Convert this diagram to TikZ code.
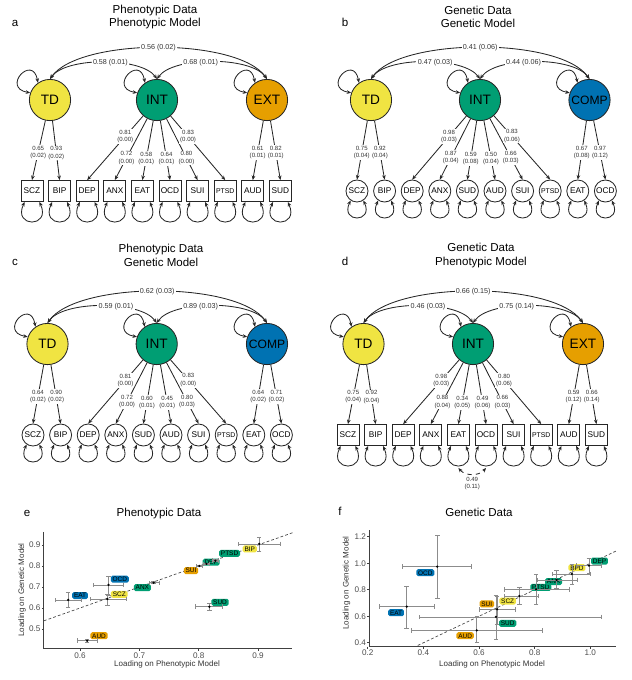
\documentclass[tikz,border=0pt]{standalone}
\usepackage{fontspec}
\setmainfont{Liberation Sans}
\usetikzlibrary{arrows.meta,positioning}
\usepackage{xcolor}

\definecolor{tdyellow}{HTML}{F0E442}
\definecolor{intgreen}{HTML}{009E73}
\definecolor{extorange}{HTML}{E69F00}
\definecolor{compblue}{HTML}{0072B2}

\tikzset{
	>={Stealth[length=3.2pt,width=2.6pt]},
	latent/.style={circle, draw=black!85, line width=0.6pt, minimum size=1.03cm, inner sep=0pt, font=\fontsize{9.7}{10}\selectfont},
	obsbox/.style={rectangle, draw=black!85, line width=0.6pt, minimum width=0.55cm, minimum height=0.525cm, inner sep=0pt},
	obscirc/.style={circle, draw=black!85, line width=0.6pt, minimum size=0.55cm, inner sep=0pt},
	loadline/.style={->, draw=black!85, line width=0.6pt},
	covline/.style={<->, draw=black!85, line width=0.6pt},
	resid/.style={<->, draw=black!85, line width=0.6pt},
	loadlab/.style={fill=white, inner sep=0.6pt, align=center, text=black!80, font=\fontsize{4.3}{5.3}\selectfont},
	covlab/.style={fill=white, inner sep=1pt, text=black!80, font=\fontsize{5.1}{6}\selectfont},
	paneltitle/.style={align=center, font=\fontsize{8.2}{9.5}\selectfont},
	panelletter/.style={anchor=base, font=\fontsize{8.2}{9.5}\selectfont},
	axisline/.style={draw=black!75, line width=0.8pt},
	ticklab/.style={text=black!70, inner sep=0.7pt, font=\fontsize{5.8}{6.5}\selectfont},
	axistitle/.style={text=black!80, font=\fontsize{5.7}{6.5}\selectfont},
	ebar/.style={draw=black!45, line width=0.5pt, {Bar[width=3.2pt]}-{Bar[width=3.2pt]}},
	plab/.style={rounded corners=1.2pt, inner xsep=1.3pt, inner ysep=0.8pt, text height=3.4pt, text depth=0pt, font=\fontsize{4.6}{5}\selectfont}
}

\begin{document}
\begin{tikzpicture}[x=0.025cm, y=0.025cm]
	\useasboundingbox (0,0) rectangle (632,-680);
	
	% panel letters and titles
	\node [panelletter] (aLetter) at (15,-26.5) {a};
	\node [paneltitle] (aTitle) at (155,-17) {Phenotypic Data\\Phenotypic Model};
	\node [panelletter] (bLetter) at (345,-26.5) {b};
	\node [paneltitle] (bTitle) at (478,-17) {Genetic Data\\Genetic Model};
	\node [panelletter] (cLetter) at (15,-265) {c};
	\node [paneltitle] (cTitle) at (161,-255.5) {Phenotypic Data\\Genetic Model};
	\node [panelletter] (dLetter) at (345,-265.5) {d};
	\node [paneltitle] (dTitle) at (481,-255.5) {Genetic Data\\Phenotypic Model};
	
	% a: phenotypic data, phenotypic model
	\begin{scope}
		\node [latent, fill=tdyellow] (aTD) at (50,-100) {TD};
		\node [latent, fill=intgreen] (aINT) at (157,-100) {INT};
		\node [latent, fill=extorange] (aEXT) at (267,-100) {EXT};
		\draw [covline] (aTD.north) to[out=55,in=125,looseness=0.6] node [covlab] (aCovTE) {0.56 (0.02)} (aEXT.north);
		\draw [covline] (aTD.north) to[out=55,in=125,looseness=0.65] node [covlab, pos=0.55] (aCovTI) {0.58 (0.01)} (aINT.north);
		\draw [covline] (aINT.north) to[out=55,in=125,looseness=0.65] node [covlab, pos=0.42] (aCovIE) {0.68 (0.01)} (aEXT.north);
		\foreach \f in {TD,INT,EXT}
			\draw [resid] (a\f.160) to[out=170,in=100,looseness=6] (a\f.125);
		\foreach \i/\name/\fac/\load/\se/\p/\fs in {
			0/SCZ/TD/0.65/0.02/0.54/5.9,
			1/BIP/TD/0.93/0.02/0.54/5.9,
			2/DEP/INT/0.81/0.00/0.32/5.9,
			3/ANX/INT/0.72/0.00/0.64/5.9,
			4/EAT/INT/0.58/0.01/0.64/5.9,
			5/OCD/INT/0.64/0.01/0.64/5.9,
			6/SUI/INT/0.80/0.00/0.64/5.9,
			7/PTSD/INT/0.83/0.00/0.32/4.9,
			8/AUD/EXT/0.61/0.01/0.54/5.9,
			9/SUD/EXT/0.82/0.01/0.54/5.9}
		{
			\node [obsbox, font=\fontsize{\fs}{\fs}\selectfont] (a\name) at (32+27.6*\i,-191) {\name};
			\draw [loadline] (a\fac) -- node [loadlab, pos=\p] {\load\\(\se)} (a\name.north);
			\draw [resid] (a\name.-124) to[out=-115,in=-65,looseness=5] (a\name.-56);
		}
	\end{scope}
	
	% b: genetic data, genetic model
	\begin{scope}[shift={(325,0)}]
		\node [latent, fill=tdyellow] (bTD) at (46,-100) {TD};
		\node [latent, fill=intgreen] (bINT) at (155,-100) {INT};
		\node [latent, fill=compblue, font=\fontsize{8.6}{9}\selectfont] (bCOMP) at (264.5,-100) {COMP};
		\draw [covline] (bTD.north) to[out=55,in=125,looseness=0.6] node [covlab] (bCovTC) {0.41 (0.06)} (bCOMP.north);
		\draw [covline] (bTD.north) to[out=55,in=125,looseness=0.65] node [covlab, pos=0.57] (bCovTI) {0.47 (0.03)} (bINT.north);
		\draw [covline] (bINT.north) to[out=55,in=125,looseness=0.65] node [covlab, pos=0.42] (bCovIC) {0.44 (0.06)} (bCOMP.north);
		\foreach \f in {TD,INT,COMP}
			\draw [resid] (b\f.160) to[out=170,in=100,looseness=6] (b\f.125);
		\foreach \i/\name/\fac/\load/\se/\p/\fs in {
			0/SCZ/TD/0.75/0.04/0.54/5.9,
			1/BIP/TD/0.92/0.04/0.54/5.9,
			2/DEP/INT/0.98/0.03/0.32/5.9,
			3/ANX/INT/0.87/0.04/0.64/5.9,
			4/SUD/INT/0.59/0.08/0.64/5.9,
			5/AUD/INT/0.50/0.04/0.64/5.9,
			6/SUI/INT/0.66/0.03/0.64/5.9,
			7/PTSD/INT/0.83/0.06/0.32/4.9,
			8/EAT/COMP/0.67/0.08/0.54/5.9,
			9/OCD/COMP/0.97/0.12/0.54/5.9}
		{
			\node [obscirc, font=\fontsize{\fs}{\fs}\selectfont] (b\name) at (32+27.6*\i,-191) {\name};
			\draw [loadline] (b\fac) -- node [loadlab, pos=\p] {\load\\(\se)} (b\name.north);
			\draw [resid] (b\name.-124) to[out=-115,in=-65,looseness=5] (b\name.-56);
		}
	\end{scope}
	
	% c: phenotypic data, genetic model
	\begin{scope}[shift={(0,-244)}]
		\node [latent, fill=tdyellow] (cTD) at (47.5,-100) {TD};
		\node [latent, fill=intgreen] (cINT) at (156.7,-100) {INT};
		\node [latent, fill=compblue, font=\fontsize{8.6}{9}\selectfont] (cCOMP) at (267,-100) {COMP};
		\draw [covline] (cTD.north) to[out=55,in=125,looseness=0.6] node [covlab] (cCovTC) {0.62 (0.03)} (cCOMP.north);
		\draw [covline] (cTD.north) to[out=55,in=125,looseness=0.65] node [covlab, pos=0.6] (cCovTI) {0.59 (0.01)} (cINT.north);
		\draw [covline] (cINT.north) to[out=55,in=125,looseness=0.65] node [covlab, pos=0.42] (cCovIC) {0.89 (0.03)} (cCOMP.north);
		\foreach \f in {TD,INT,COMP}
			\draw [resid] (c\f.160) to[out=170,in=100,looseness=6] (c\f.125);
		\foreach \i/\name/\fac/\load/\se/\p/\fs in {
			0/SCZ/TD/0.64/0.02/0.54/5.9,
			1/BIP/TD/0.90/0.02/0.54/5.9,
			2/DEP/INT/0.81/0.00/0.32/5.9,
			3/ANX/INT/0.72/0.00/0.64/5.9,
			4/SUD/INT/0.60/0.01/0.64/5.9,
			5/AUD/INT/0.45/0.01/0.64/5.9,
			6/SUI/INT/0.80/0.03/0.64/5.9,
			7/PTSD/INT/0.83/0.00/0.32/4.9,
			8/EAT/COMP/0.64/0.02/0.54/5.9,
			9/OCD/COMP/0.71/0.02/0.54/5.9}
		{
			\node [obscirc, font=\fontsize{\fs}{\fs}\selectfont] (c\name) at (33+27.6*\i,-191) {\name};
			\draw [loadline] (c\fac) -- node [loadlab, pos=\p] {\load\\(\se)} (c\name.north);
			\draw [resid] (c\name.-124) to[out=-115,in=-65,looseness=5] (c\name.-56);
		}
	\end{scope}
	
	% d: genetic data, phenotypic model
	\begin{scope}[shift={(316,-244)}]
		\node [latent, fill=tdyellow] (dTD) at (47.5,-100) {TD};
		\node [latent, fill=intgreen] (dINT) at (157,-100) {INT};
		\node [latent, fill=extorange] (dEXT) at (267,-100) {EXT};
		\draw [covline] (dTD.north) to[out=55,in=125,looseness=0.6] node [covlab] (dCovTE) {0.66 (0.15)} (dEXT.north);
		\draw [covline] (dTD.north) to[out=55,in=125,looseness=0.65] node [covlab, pos=0.57] (dCovTI) {0.46 (0.03)} (dINT.north);
		\draw [covline] (dINT.north) to[out=55,in=125,looseness=0.65] node [covlab, pos=0.42] (dCovIE) {0.75 (0.14)} (dEXT.north);
		\foreach \f in {TD,INT,EXT}
			\draw [resid] (d\f.160) to[out=170,in=100,looseness=6] (d\f.125);
		\foreach \i/\name/\fac/\load/\se/\p/\fs in {
			0/SCZ/TD/0.75/0.04/0.54/5.9,
			1/BIP/TD/0.92/0.04/0.54/5.9,
			2/DEP/INT/0.98/0.03/0.32/5.9,
			3/ANX/INT/0.88/0.04/0.64/5.9,
			4/EAT/INT/0.34/0.05/0.64/5.9,
			5/OCD/INT/0.49/0.06/0.64/5.9,
			6/SUI/INT/0.66/0.03/0.64/5.9,
			7/PTSD/INT/0.80/0.06/0.32/4.9,
			8/AUD/EXT/0.59/0.12/0.54/5.9,
			9/SUD/EXT/0.66/0.14/0.54/5.9}
		{
			\node [obsbox, font=\fontsize{\fs}{\fs}\selectfont] (d\name) at (32+27.6*\i,-191) {\name};
			\draw [loadline] (d\fac) -- node [loadlab, pos=\p] {\load\\(\se)} (d\name.north);
			\draw [resid] (d\name.-124) to[out=-115,in=-65,looseness=5] (d\name.-56);
		}
		\coordinate [below=0.55cm of dEAT] (dEATlow);
		\coordinate [below=0.55cm of dOCD] (dOCDlow);
		\draw [covline, dashed] (dEATlow) to[bend right=50] node [loadlab, below=1pt, fill=none] (dCovEO) {0.49\\(0.11)} (dOCDlow);
	\end{scope}
	
	% e: scatter, phenotypic data
	\node [panelletter] (eLetter) at (27,-516) {e};
	\node [panelletter] (eTitle) at (159,-516.7) {Phenotypic Data};
	\node [axistitle] (eXTitle) at (167,-664.5) {Loading on Phenotypic Model};
	\node [axistitle, rotate=90] (eYTitle) at (22,-590) {Loading on Genetic Model};
	\begin{scope}[shift={(-275.8,-734)}, x=14.825cm, y=5.25cm]
		\draw [axisline] (0.539,0.962) -- (0.539,0.405) -- (0.957,0.405);
		\foreach \v in {0.6,0.7,0.8,0.9}
			\draw [axisline, line width=0.5pt] (\v,0.405) -- ++(0pt,-1.5pt) node [ticklab, below] {\v};
		\foreach \v in {0.5,0.6,0.7,0.8,0.9}
			\draw [axisline, line width=0.5pt] (0.539,\v) -- ++(-1.5pt,0pt) node [ticklab, left] {\v};
		\draw [black!70, line width=0.5pt, dash pattern=on 2pt off 1.5pt] (0.539,0.539) -- (0.96,0.96);
		\foreach \name/\x/\y/\xl/\xh/\yl/\yh/\lx/\ly/\col in {
			AUD/0.612/0.444/0.594/0.630/0.437/0.452/0.632/0.468/extorange,
			EAT/0.580/0.638/0.558/0.603/0.599/0.678/0.600/0.659/compblue,
			OCD/0.648/0.710/0.622/0.673/0.657/0.752/0.667/0.737/compblue,
			SCZ/0.646/0.643/0.617/0.678/0.610/0.667/0.666/0.665/tdyellow,
			ANX/0.724/0.720/0.716/0.734/0.714/0.727/0.705/0.697/intgreen,
			SUI/0.801/0.800/0.795/0.807/0.795/0.806/0.787/0.778/extorange,
			DEP/0.813/0.810/0.808/0.818/0.806/0.814/0.821/0.818/intgreen,
			PTSD/0.828/0.825/0.822/0.834/0.819/0.831/0.852/0.860/intgreen,
			BIP/0.902/0.905/0.867/0.938/0.868/0.940/0.886/0.881/tdyellow,
			SUD/0.818/0.606/0.794/0.841/0.586/0.622/0.836/0.627/intgreen}
		{
			\node [plab, fill=\col] (e\name) at (\lx,\ly) {\name};
			\draw [ebar] (\xl,\y) -- (\xh,\y);
			\draw [ebar] (\x,\yl) -- (\x,\yh);
			\fill (\x,\y) circle (0.9pt);
		}
	\end{scope}
	
	% f: scatter, genetic data
	\node [panelletter] (fLetter) at (340,-515.7) {f};
	\node [panelletter] (fTitle) at (479,-516.7) {Genetic Data};
	\node [axistitle] (fXTitle) at (492,-664) {Loading on Phenotypic Model};
	\node [axistitle, rotate=90] (fYTitle) at (346.5,-583) {Loading on Genetic Model};
	\begin{scope}[shift={(312.06,-695.8)}, x=6.955cm, y=3.3125cm]
		\draw [axisline] (0.2058,1.251) -- (0.2058,0.371) -- (1.0925,0.371);
		\foreach \v in {0.2,0.4,0.6,0.8,1.0}
			\draw [axisline, line width=0.5pt] (\v,0.371) -- ++(0pt,-1.5pt) node [ticklab, below] {\v};
		\foreach \v in {0.4,0.6,0.8,1.0,1.2}
			\draw [axisline, line width=0.5pt] (0.2058,\v) -- ++(-1.5pt,0pt) node [ticklab, left] {\v};
		\draw [black!70, line width=0.5pt, dash pattern=on 2pt off 1.5pt] (0.38,0.38) -- (1.093,1.093);
		\foreach \name/\x/\y/\xl/\xh/\yl/\yh/\lx/\ly/\col in {
			OCD/0.450/0.975/0.323/0.575/0.736/1.214/0.407/0.929/compblue,
			EAT/0.340/0.673/0.242/0.440/0.509/0.831/0.302/0.627/compblue,
			AUD/0.592/0.494/0.356/0.829/0.404/0.600/0.550/0.454/extorange,
			SUD/0.661/0.595/0.386/1.040/0.426/0.761/0.703/0.547/intgreen,
			SUI/0.665/0.653/0.601/0.733/0.534/0.753/0.628/0.693/extorange,
			SCZ/0.745/0.753/0.691/0.814/0.685/0.824/0.703/0.715/tdyellow,
			PTSD/0.805/0.804/0.691/0.925/0.686/0.920/0.822/0.818/intgreen,
			ANX/0.879/0.874/0.809/0.953/0.811/0.949/0.868/0.862/intgreen,
			BPD/0.934/0.919/0.863/1.000/0.842/0.995/0.952/0.967/tdyellow,
			DEP/0.995/0.982/0.949/1.040/0.919/1.037/1.033/1.017/intgreen}
		{
			\node [plab, fill=\col] (f\name) at (\lx,\ly) {\name};
			\draw [ebar] (\xl,\y) -- (\xh,\y);
			\draw [ebar] (\x,\yl) -- (\x,\yh);
			\fill (\x,\y) circle (0.9pt);
		}
	\end{scope}
\end{tikzpicture}
\end{document}
